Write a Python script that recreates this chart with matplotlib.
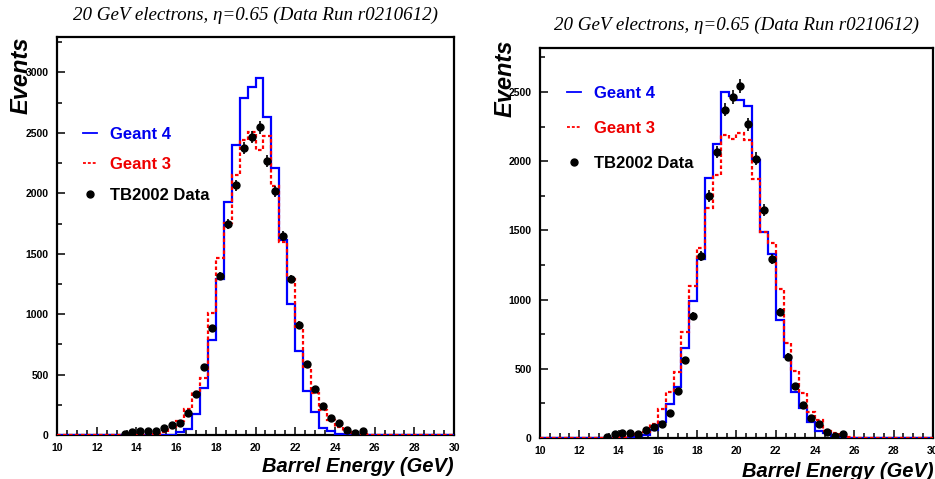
import numpy as np
import matplotlib
matplotlib.use('Agg')
import matplotlib.pyplot as plt
from matplotlib.lines import Line2D
from matplotlib.ticker import MultipleLocator

plt.rcParams['font.family'] = ['Liberation Sans', 'DejaVu Sans']

# bin edges of the histograms: 10..30 GeV, 0.4 GeV wide
edges = np.linspace(10, 30, 51)

# left panel, events per bin (bins start at 10.0, 10.4, ... 29.6)
g4_left = [0, 0, 0, 0, 0, 0, 0, 0, 0, 0,
           0, 0, 0, 0, 0, 25, 50, 175, 390, 785,
           1288, 1925, 2400, 2790, 2880, 2958, 2632, 2210, 1610, 1082,
           697, 366, 188, 60, 36, 5, 0, 0, 0, 0,
           0, 0, 0, 0, 0, 0, 0, 0, 0, 0]
g3_left = [0, 0, 0, 0, 0, 0, 0, 0, 0, 0,
           0, 3, 10, 28, 58, 115, 212, 359, 470, 1008,
           1465, 1754, 2154, 2444, 2510, 2361, 2471, 2057, 1601, 1290,
           892, 566, 345, 207, 124, 69, 27, 14, 5, 2,
           0, 0, 0, 0, 0, 0, 0, 0, 0, 0]

# right panel
g4_right = [0, 0, 0, 0, 0, 0, 0, 0, 0, 0,
            0, 3, 14, 22, 60, 118, 246, 371, 653, 990,
            1295, 1876, 2124, 2502, 2471, 2440, 2399, 2006, 1491, 1329,
            853, 583, 335, 214, 118, 53, 34, 14, 3, 0,
            0, 0, 0, 0, 0, 0, 0, 0, 0, 0]
g3_right = [0, 0, 0, 0, 0, 0, 0, 0, 0, 0,
            5, 14, 29, 46, 101, 207, 335, 479, 768, 1098,
            1375, 1660, 1900, 2189, 2158, 2202, 2153, 1873, 1491, 1411,
            1074, 689, 486, 327, 190, 130, 53, 38, 20, 5,
            0, 0, 0, 0, 0, 0, 0, 0, 0, 0]

# TB2002 data (same run in both panels)
data_e = [13.4, 13.8, 14.2, 14.6, 15.0, 15.4, 15.8, 16.2, 16.6, 17.0,
          17.4, 17.8, 18.2, 18.6, 19.0, 19.4, 19.8, 20.2, 20.6, 21.0,
          21.4, 21.8, 22.2, 22.6, 23.0, 23.4, 23.8, 24.2, 24.6, 25.0, 25.4]
data_n = [6, 28, 37, 35, 30, 60, 80, 100, 184, 338,
          564, 884, 1316, 1748, 2066, 2372, 2462, 2545, 2268, 2018,
          1648, 1290, 910, 588, 378, 236, 143, 101, 43, 14, 30]

title = '20 GeV electrons, \u03b7=0.65 (Data Run r0210612)'

fig = plt.figure(figsize=(9.35, 4.79), dpi=100)


def draw_panel(rect, g4, g3, ymax, leg_anchor, leg_space):
    ax = fig.add_axes(rect)
    ax.stairs(g4, edges, color='#0000ff', lw=1.6, zorder=3)
    ax.stairs(g3, edges, color='#ff0000', lw=1.6, ls=(0, (1.6, 1.1)), zorder=4)
    ax.errorbar(data_e, data_n, yerr=np.sqrt(data_n), xerr=0.1, fmt='o',
                color='k', ms=5, elinewidth=1.2, capsize=0, zorder=5)
    ax.set_xlim(10, 30)
    ax.set_ylim(0, ymax)
    ax.xaxis.set_major_locator(MultipleLocator(2))
    ax.xaxis.set_minor_locator(MultipleLocator(0.5))
    ax.yaxis.set_major_locator(MultipleLocator(500))
    ax.yaxis.set_minor_locator(MultipleLocator(250))
    ax.tick_params(which='both', direction='in', top=False, right=False,
                   labelsize=7.5, width=1.1)
    ax.tick_params(which='major', length=6, pad=6)
    ax.tick_params(which='minor', length=3.5)
    for lab in ax.get_xticklabels() + ax.get_yticklabels():
        lab.set_fontweight('bold')
    for sp in ax.spines.values():
        sp.set_linewidth(1.6)

    handles = [Line2D([], [], color='#0000ff', lw=1.3),
               Line2D([], [], color='#ff0000', lw=1.3, ls=(0, (1.6, 1.1))),
               Line2D([], [], ls='none', marker='o', color='k', ms=5)]
    ax.legend(handles, ['Geant 4', 'Geant 3', 'TB2002 Data'],
              loc='upper left', bbox_to_anchor=leg_anchor, frameon=False,
              borderpad=0, borderaxespad=0, handlelength=0.85,
              handletextpad=0.8, labelspacing=leg_space,
              labelcolor=['#0000ee', '#ee0000', 'k'],
              prop={'weight': 'bold', 'size': 12})
    return ax


ax1 = draw_panel([0.061, 0.0919, 0.4246, 0.830], g4_left, g3_left, 3290,
                 (0.065, 0.775), 0.92)
ax2 = draw_panel([0.5775, 0.0856, 0.4203, 0.8148], g4_right, g3_right, 2820,
                 (0.068, 0.902), 1.19)

# titles, centred over each frame
fig.text(0.2733, 0.969, title, ha='center', va='center', fontsize=13.7,
         family='Liberation Serif', style='italic')
fig.text(0.7877, 0.948, title, ha='center', va='center', fontsize=13.7,
         family='Liberation Serif', style='italic')

# axis labels
fig.text(0.0225, 0.843, 'Events', rotation=90, ha='center', va='center',
         fontsize=17, weight='bold', style='italic')
fig.text(0.540, 0.837, 'Events', rotation=90, ha='center', va='center',
         fontsize=17, weight='bold', style='italic')
fig.text(0.4856, 0.0152, 'Barrel Energy (GeV)', ha='right', va='baseline',
         fontsize=14.5, weight='bold', style='italic')
fig.text(0.998, 0.0048, 'Barrel Energy (GeV)', ha='right', va='baseline',
         fontsize=14.5, weight='bold', style='italic')

fig.savefig('out.png', dpi=100)
